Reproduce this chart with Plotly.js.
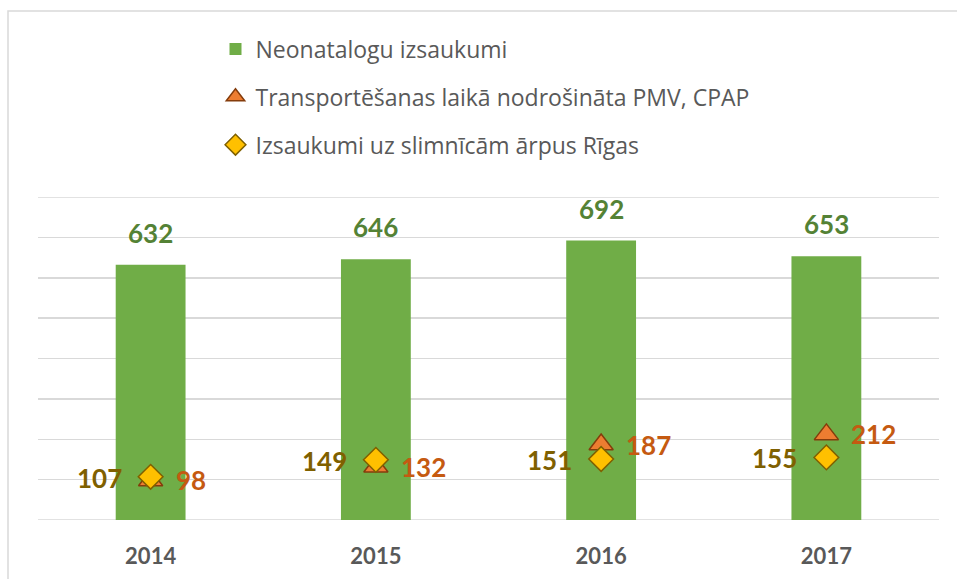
<!DOCTYPE html>
<html>
<head>
<meta charset="utf-8">
<script src="https://cdn.plot.ly/plotly-3.0.1.min.js"></script>
<style>
html,body{margin:0;padding:0;background:#fff;}
#chart{width:957px;height:579px;}
</style>
</head>
<body>
<div id="chart"></div>
<script>
const years = ['2014', '2015', '2016', '2017'];
const neonatalogi = [632, 646, 692, 653];
const transportesana = [98, 132, 187, 212];
const arpusRigas = [107, 149, 151, 155];
const seriesNames = [
  'Neonatalogu izsaukumi',
  'Transportēšanas laikā nodrošināta PMV, CPAP',
  'Izsaukumi uz slimnīcām ārpus Rīgas'
];
const yMin = 0, yMax = 800;

const FONT = 'Lato, "Open Sans", sans-serif';
const LEGFONT = '"Open Sans", Lato, sans-serif';
const green = '#70AD47', greenDark = '#548235';
const orange = '#ED7D31', orangeLine = '#843C0C', orangeText = '#C55A11';
const gold = '#FFC000', goldLine = '#7F6000', goldText = '#7F6000';
const gridCol = '#D9D9D9';

const traces = [
  {
    type: 'bar', x: years, y: neonatalogi, name: seriesNames[0],
    marker: {color: green}, legendgroup: 'a', hoverinfo: 'none'
  },
  {
    type: 'scatter', mode: 'markers', x: years, y: transportesana, name: seriesNames[1],
    marker: {symbol: 'triangle-up', size: 21, color: orange, line: {color: orangeLine, width: 1.5}},
    legendgroup: 'b', hoverinfo: 'none', cliponaxis: false
  },
  {
    type: 'scatter', mode: 'markers', x: years, y: arpusRigas, name: seriesNames[2],
    marker: {symbol: 'diamond', size: 19, color: gold, line: {color: goldLine, width: 1.5}},
    legendgroup: 'c', hoverinfo: 'none', cliponaxis: false
  }
];

// annotations placed on the category axis by category index
const annotations = [];
years.forEach((yr, i) => {
  annotations.push({x: i, y: neonatalogi[i], xref: 'x', yref: 'y', text: String(neonatalogi[i]),
    showarrow: false, yanchor: 'middle', yshift: 32,
    font: {family: FONT, size: 26, color: greenDark, weight: 'bold'}});
  annotations.push({x: i, y: transportesana[i], xref: 'x', yref: 'y', text: String(transportesana[i]),
    showarrow: false, xanchor: 'left', yanchor: 'middle', xshift: 23,
    font: {family: FONT, size: 26, color: orangeText, weight: 'bold'}});
  annotations.push({x: i, y: arpusRigas[i], xref: 'x', yref: 'y', text: String(arpusRigas[i]),
    showarrow: false, xanchor: 'right', yanchor: 'middle', xshift: -27, yshift: -1,
    font: {family: FONT, size: 26, color: goldText, weight: 'bold'}});
});

const layout = {
  width: 957, height: 579,
  margin: {l: 38, r: 18, t: 197, b: 59},
  paper_bgcolor: '#fff', plot_bgcolor: '#fff',
  font: {family: FONT, color: '#595959'},
  bargap: 0.69,
  showlegend: true,
  legend: {
    x: 0.197, xanchor: 'left', y: 1.525, yanchor: 'top',
    orientation: 'v', tracegroupgap: 15,
    font: {family: LEGFONT, size: 23, color: '#595959'},
    bgcolor: 'rgba(0,0,0,0)'
  },
  xaxis: {
    type: 'category', range: [-0.5, 3.5], autorange: false,
    showgrid: false, zeroline: false, showline: false,
    ticks: 'outside', ticklen: 17, tickcolor: 'rgba(0,0,0,0)',
    tickfont: {family: FONT, size: 22, color: '#595959', weight: 'bold'},
    fixedrange: true
  },
  yaxis: {
    range: [yMin, yMax], autorange: false, dtick: 100, showticklabels: false,
    showgrid: true, gridcolor: gridCol, gridwidth: 1.5,
    zeroline: false, showline: false, fixedrange: true
  },
  annotations: annotations,
  shapes: [
    {type: 'rect', xref: 'paper', yref: 'paper',
     x0: -0.0333, x1: 1.03, y0: -0.25, y1: 1.5759,
     line: {color: gridCol, width: 1.5}, fillcolor: 'rgba(0,0,0,0)', layer: 'below'},
    {type: 'line', xref: 'paper', yref: 'y', x0: 0, x1: 1, y0: yMin, y1: yMin,
     line: {color: gridCol, width: 1.5}, layer: 'below'},
    {type: 'line', xref: 'paper', yref: 'y', x0: 0, x1: 1, y0: yMax, y1: yMax,
     line: {color: gridCol, width: 1.5}, layer: 'below'}
  ]
};

Plotly.newPlot('chart', traces, layout, {displayModeBar: false, staticPlot: true});
</script>
</body>
</html>
